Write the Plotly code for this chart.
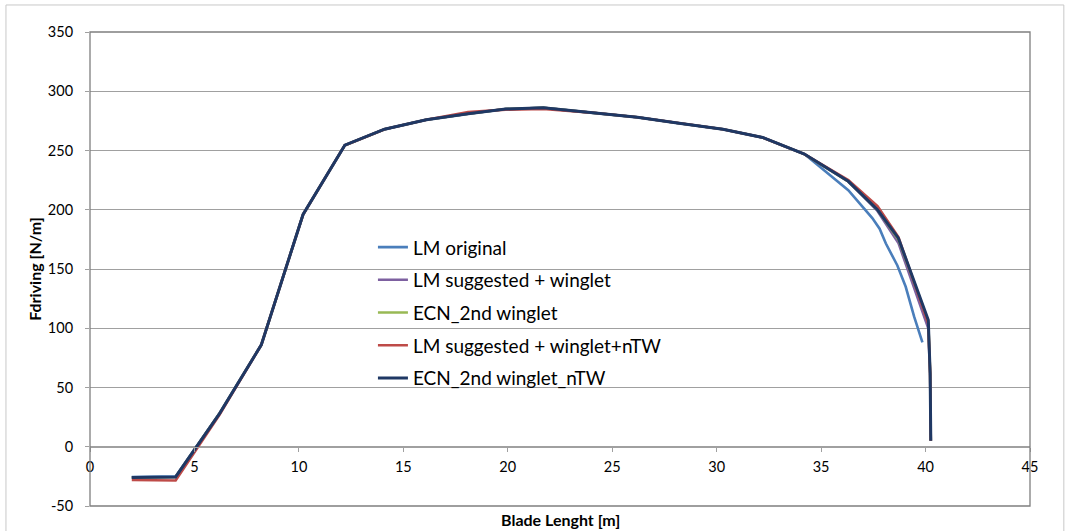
import plotly.graph_objects as go

# Spanwise stations along the blade [m]
span = [2.0, 4.1, 6.2, 8.2, 10.2, 12.2, 14.1, 16.1, 18.1, 19.9, 21.7, 24.0,
        26.2, 28.2, 30.3, 32.2, 34.2, 36.3, 37.7, 38.7, 39.9, 40.13, 40.22,
        40.24, 40.25]
span_original = [2.0, 4.1, 6.2, 8.2, 10.2, 12.2, 14.1, 16.1, 18.1, 19.9, 21.7,
                 24.0, 26.2, 28.2, 30.3, 32.2, 34.2, 36.3, 37.45, 37.8, 38.1,
                 38.65, 39.05, 39.45, 39.85]

# Driving force per unit length [N/m]
lm_original = [-25.5, -25, 28, 86, 196, 254.5, 268, 276, 281, 285, 286, 282,
               278, 273, 268, 261, 247, 216.5, 193, 184, 171.5, 153, 135, 110, 88]
lm_suggested_winglet = [-26, -25.5, 28, 86, 196, 254.5, 268, 276, 281, 285,
                        286, 282, 278, 273, 268, 261, 247, 224, 199, 172, 113,
                        100, 60, 30, 5]
ecn_2nd_winglet = [-26, -25.5, 28, 86, 196, 254.5, 268, 276, 281, 285, 286,
                   282, 278, 273, 268, 261, 247, 224, 200, 175, 118, 106, 62,
                   30, 5]
lm_suggested_winglet_ntw = [-28, -28.5, 27, 86, 196, 254.5, 268, 276, 282.5,
                            284.5, 285, 282, 278, 273, 268, 261, 247, 225, 203,
                            177, 117, 104, 62, 30, 5]
ecn_2nd_winglet_ntw = [-26, -25.5, 28, 86, 196, 254.5, 268, 276, 281, 285, 286,
                       282, 278, 273, 268, 261, 247, 224, 200, 176, 119, 107,
                       62, 30, 5]

# Axis ticks
y_ticks = [-50, 0, 50, 100, 150, 200, 250, 300, 350]
y_tick_labels = ["-50", "0", "50", "100", "150", "200", "250", "300", "350"]
x_ticks = [0, 5, 10, 15, 20, 25, 30, 35, 40, 45]

series = [
    ("LM original", span_original, lm_original, "#4A7EBB", 2.6),
    ("LM suggested + winglet", span, lm_suggested_winglet, "#7D60A0", 2.6),
    ("ECN_2nd winglet", span, ecn_2nd_winglet, "#98B954", 2.6),
    ("LM suggested + winglet+nTW", span, lm_suggested_winglet_ntw, "#BE4B48", 2.6),
    ("ECN_2nd winglet_nTW", span, ecn_2nd_winglet_ntw, "#1F3864", 3.0),
]

font_family = "Lato, 'Open Sans', sans-serif"
grid_color = "#A0A0A0"

fig = go.Figure()
for i, (name, xs, ys, color, width) in enumerate(series):
    fig.add_trace(go.Scatter(
        x=xs, y=ys, name=name, mode="lines",
        line=dict(color=color, width=width),
        legendgroup=f"g{i}",
    ))

y_min, y_max = -50, 350

fig.update_layout(
    width=1066, height=531,
    margin=dict(l=90, r=36, t=32, b=25),
    paper_bgcolor="white", plot_bgcolor="white",
    font=dict(family=font_family, color="#000000", size=14.5),
    showlegend=True,
    legend=dict(
        x=0.301, y=0.586, xanchor="left", yanchor="top",
        bgcolor="rgba(0,0,0,0)", borderwidth=0,
        font=dict(size=19, family=font_family),
        itemwidth=30,
        traceorder="grouped", tracegroupgap=5,
    ),
    xaxis=dict(
        range=[0, 45], tickvals=x_ticks,
        showgrid=False, zeroline=False,
        anchor="free", position=(0 - y_min) / (y_max - y_min),
        showline=True, linecolor=grid_color, linewidth=1,
        ticks="outside", ticklen=4, tickcolor=grid_color,
        ticklabelstandoff=3,
        tickfont=dict(size=14.5),
    ),
    yaxis=dict(
        range=[y_min, y_max], tickvals=y_ticks, ticktext=y_tick_labels,
        showgrid=True, gridcolor=grid_color, gridwidth=1,
        zeroline=False, showline=False,
        ticks="outside", ticklen=4, tickcolor=grid_color,
        ticklabelstandoff=9,
        tickfont=dict(size=14.5),
        title=dict(text="<b>Fdriving [N/m]</b>", font=dict(size=16), standoff=2),
    ),
)

# X-axis title along the bottom of the chart
fig.add_annotation(text="<b>Blade Lenght [m]</b>", xref="paper", yref="paper",
                   x=0.5, y=-0.028, xanchor="center", yanchor="middle",
                   showarrow=False, font=dict(size=16, family=font_family))

# Plot-area frame
fig.add_shape(type="rect", xref="paper", yref="paper", x0=0, x1=1, y0=0, y1=1,
              line=dict(color="#7F7F7F", width=1.3), layer="above")
# Outer chart frame
fig.add_shape(type="rect", xref="paper", yref="paper",
              x0=-0.0894, x1=1.036, y0=-0.06, y1=1.057,
              line=dict(color="#C8C8C8", width=1), layer="below")

fig.write_html("out.html")
